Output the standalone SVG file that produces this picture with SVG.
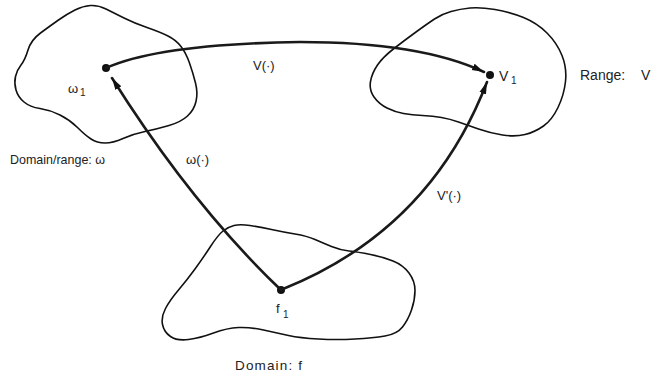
<svg xmlns="http://www.w3.org/2000/svg" width="657" height="378" viewBox="0 0 657 378">
<style>
.blob{fill:none;stroke:#111;stroke-width:1.6;stroke-linejoin:round}
.arr{fill:none;stroke:#1a1a1a;stroke-width:2.6;stroke-linecap:round}
.dot{fill:#111}
text{font-family:"Liberation Sans",Arial,Helvetica,sans-serif;font-size:13px;fill:#222}
.sub{font-size:10px}
</style>
<defs>
<marker id="ah" markerUnits="userSpaceOnUse" markerWidth="14" markerHeight="8" refX="12" refY="4" orient="auto">
<path d="M0,0.5 L12,4 L0,7.5 Z" fill="#111"/>
</marker>
</defs>
<rect width="657" height="378" fill="#fff"/>
<g id="domain-omega">
<path class="blob" d="M21,65 Q25,60 28,50 Q31,40 40.5,33 Q50,26 58.5,20 Q67,14 75,10 Q83,6 90.5,5.5 Q98,5 106,9 Q114,13 124,18 Q134,23 147,27.5 Q160,32 168,36 Q176,40 181,46.5 Q186,53 189.5,63 Q193,73 195.5,83 Q198,93 196,101.5 Q194,110 187.5,116 Q181,122 169,125.5 Q157,129 145,131.5 Q133,134 123,138.5 Q113,143 105,143 Q97,143 91,139 Q85,135 77.5,127.5 Q70,120 60,115 Q50,110 40,108.5 Q30,107 24,102 Q18,97 16,90 Q14,83 15.5,76.5 Q17,70 21,65 Z"/>
<circle class="dot" cx="106" cy="68" r="4"/>
<text x="68" y="93">ω<tspan class="sub" x="80" y="96">1</tspan></text>
<text x="10" y="164" textLength="95" lengthAdjust="spacingAndGlyphs">Domain/range: ω</text>
</g>
<g id="range-V">
<path class="blob" d="M370.5,81.5 Q372,73 377.5,65 Q383,57 394,48.5 Q405,40 416,32 Q427,24 434.5,19 Q442,14 451,11.5 Q460,9 470,8 Q480,7 495,9.5 Q510,12 523.5,17.5 Q537,23 547,33 Q557,43 562,55.5 Q567,68 565.5,81.5 Q564,95 558,107.5 Q552,120 543.5,126 Q535,132 525,134.5 Q515,137 502.5,135 Q490,133 478.5,129 Q467,125 458.5,122 Q450,119 441.5,117.5 Q433,116 422.5,115.5 Q412,115 403.5,113.5 Q395,112 387,108 Q379,104 374,97 Q369,90 370.5,81.5 Z"/>
<circle class="dot" cx="490" cy="75" r="4"/>
<text x="499" y="81" font-size="14" style="font-size:14px">V<tspan class="sub" x="511" y="84">1</tspan></text>
<text x="580" y="80" style="font-size:14px">Range: <tspan x="641">V</tspan></text>
</g>
<g id="domain-f">
<path class="blob" d="M210.5,246.5 Q218,235 223,231 Q228,227 234,225.5 Q240,224 250,225.5 Q260,227 271.5,229.5 Q283,232 295,234 Q307,236 315,239.5 Q323,243 331.5,246.5 Q340,250 349,251 Q358,252 370.5,254.5 Q383,257 393,261 Q403,265 409,273 Q415,281 415,290.5 Q415,300 411.5,310 Q408,320 402.5,327 Q397,334 385,336 Q373,338 355,339 Q337,340 318.5,339 Q300,338 288.5,335.5 Q277,333 263.5,330 Q250,327 238.5,327.5 Q227,328 213.5,333 Q200,338 188.5,339.5 Q177,341 170.5,336.5 Q164,332 162.5,324.5 Q161,317 165.5,308.5 Q170,300 178.5,290 Q187,280 195,269 Q203,258 210.5,246.5 Z"/>
<circle class="dot" cx="281" cy="290" r="4"/>
<text x="276" y="313">f<tspan class="sub" x="283" y="318">1</tspan></text>
<text x="235" y="370" textLength="67" lengthAdjust="spacing" style="font-size:13.5px">Domain: f</text>
</g>
<g id="connectors">
<path class="arr" d="M281,290 Q192,205 112,78" marker-end="url(#ah)"/>
<path class="arr" d="M106,68 Q160,44 300,42 Q420,42 484,72" marker-end="url(#ah)"/>
<path class="arr" d="M283,289 Q430,230 487,82" marker-end="url(#ah)"/>
<text x="253" y="70">V(·)</text>
<text x="186" y="164">ω(·)</text>
<text x="437" y="200">V'(·)</text>
</g>
</svg>
